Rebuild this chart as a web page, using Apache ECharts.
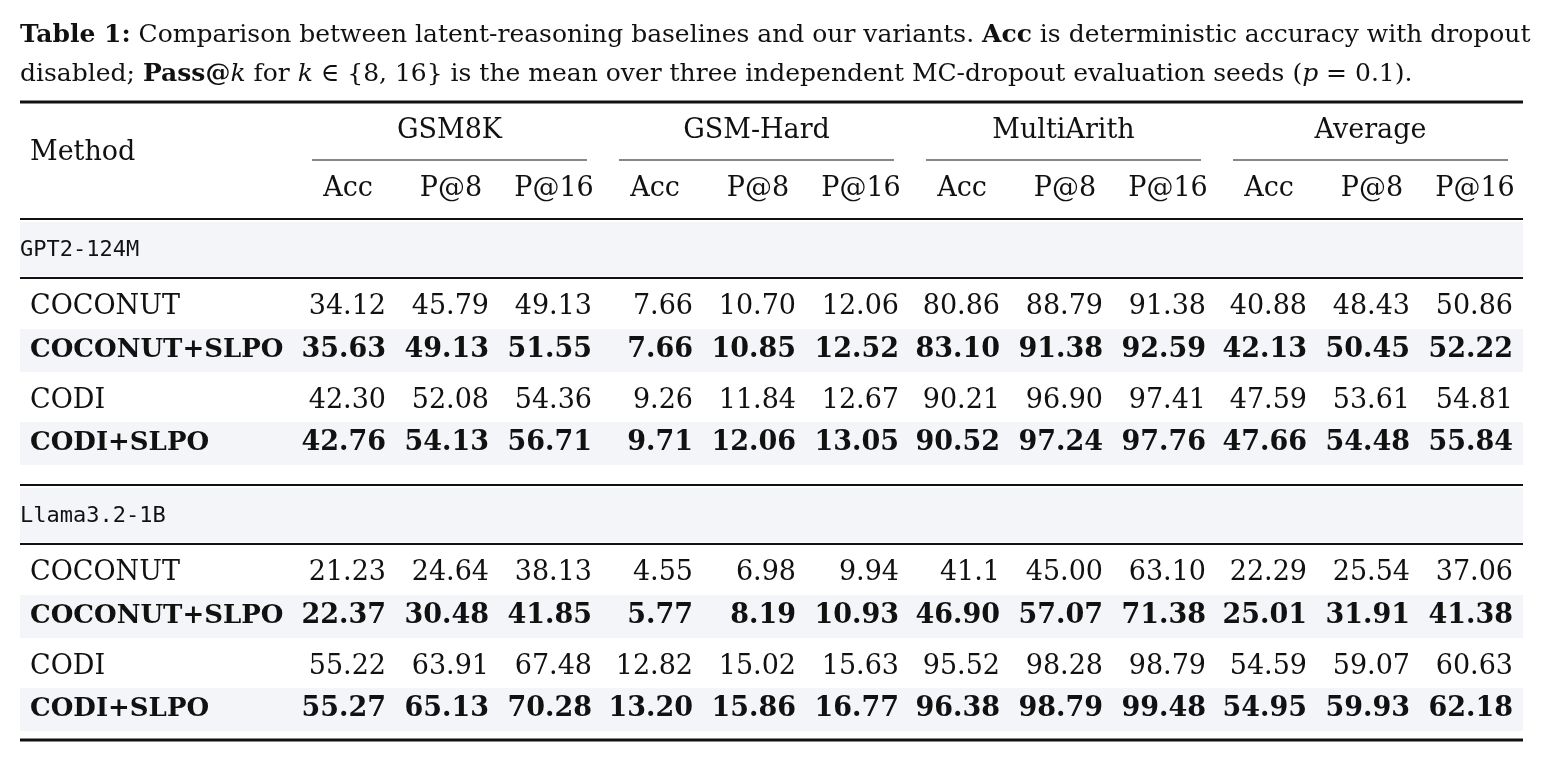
<!DOCTYPE html>
<html>
<head>
<meta charset="utf-8">
<script src="https://cdn.jsdelivr.net/npm/echarts@6/dist/echarts.min.js"></script>
<style>
  html, body { margin: 0; padding: 0; background: #fff; }
  #main { width: 1548px; height: 757px; }
</style>
</head>
<body>
<div id="main"></div>
<script>
// table content
const groups = ['GSM8K', 'GSM-Hard', 'MultiArith', 'Average']
const subCols = ['Acc', 'P@8', 'P@16']
const sections = ['GPT2-124M', 'Llama3.2-1B']
const methods = ['COCONUT', 'COCONUT+SLPO', 'CODI', 'CODI+SLPO']
const ours = [false, true, false, true]

const gpt2Rows = [
  ['34.12', '45.79', '49.13', '7.66', '10.70', '12.06', '80.86', '88.79', '91.38', '40.88', '48.43', '50.86'],
  ['35.63', '49.13', '51.55', '7.66', '10.85', '12.52', '83.10', '91.38', '92.59', '42.13', '50.45', '52.22'],
  ['42.30', '52.08', '54.36', '9.26', '11.84', '12.67', '90.21', '96.90', '97.41', '47.59', '53.61', '54.81'],
  ['42.76', '54.13', '56.71', '9.71', '12.06', '13.05', '90.52', '97.24', '97.76', '47.66', '54.48', '55.84']
]
const llamaRows = [
  ['21.23', '24.64', '38.13', '4.55', '6.98', '9.94', '41.1', '45.00', '63.10', '22.29', '25.54', '37.06'],
  ['22.37', '30.48', '41.85', '5.77', '8.19', '10.93', '46.90', '57.07', '71.38', '25.01', '31.91', '41.38'],
  ['55.22', '63.91', '67.48', '12.82', '15.02', '15.63', '95.52', '98.28', '98.79', '54.59', '59.07', '60.63'],
  ['55.27', '65.13', '70.28', '13.20', '15.86', '16.77', '96.38', '98.79', '99.48', '54.95', '59.93', '62.18']
]

const chart = echarts.init(document.getElementById('main'))

const SERIF = '"DejaVu Serif", serif'
const MONO = '"DejaVu Sans Mono", monospace'
const FS = 27
const left = 20, right = 1523
const shade = '#f3f5f8'
// right edge of the first data column, column step, group step
const col0 = 386, colStep = 103, grpStep = 307

const els = []
function text(t, x, y, opt = {}) {
  els.push({
    type: 'text', silent: true,
    style: Object.assign({
      text: t, x, y, fill: '#111',
      font: (opt.bold ? 'bold ' : '') + (opt.size || FS) + 'px ' + (opt.family || SERIF),
      align: opt.align || 'left', verticalAlign: 'middle'
    }, opt.style || {})
  })
}
function rule(y, w, x1 = left, x2 = right) {
  els.push({ type: 'line', silent: true, shape: { x1, y1: y, x2, y2: y }, style: { stroke: '#111', lineWidth: w } })
}
function band(y1, y2) {
  els.push({ type: 'rect', silent: true, shape: { x: left, y: y1, width: right - left, height: y2 - y1 }, style: { fill: shade } })
}
const colRight = (g, c) => col0 + g * grpStep + c * colStep

// caption with rich text
els.push({
  type: 'text', silent: true,
  style: {
    x: 20, y: 16,
    text: '{b|Table 1:} Comparison between latent-reasoning baselines and our variants. {b|Acc} is deterministic accuracy with dropout\n' +
      'disabled; {b|Pass@}{i|k} for {i|k} ∈ {8, 16} is the mean over three independent MC-dropout evaluation seeds ({i|p} = 0.1).',
    font: '25px ' + SERIF, fill: '#111', lineHeight: 39,
    rich: {
      b: { font: 'bold 25px ' + SERIF, fill: '#111' },
      i: { font: 'italic 25px ' + SERIF, fill: '#111' }
    }
  }
})

// header
rule(102, 3)
text('Method', 30, 153)
groups.forEach((g, gi) => {
  const x1 = colRight(gi, 0) - 74, x2 = colRight(gi, 2) - 5
  text(g, (x1 + x2) / 2, 131, { align: 'center' })
  rule(160, 1.2, x1, x2)
  subCols.forEach((s, ci) => text(s, colRight(gi, ci) - 38, 189, { align: 'center' }))
})
rule(219, 2)

// body sections
const blocks = [
  { label: sections[0], rows: gpt2Rows, top: 222 },
  { label: sections[1], rows: llamaRows, top: 488 }
]
const rowOffsets = [85, 128, 179, 221]
blocks.forEach((b, bi) => {
  band(b.top, b.top + 54)
  text(b.label, 20, b.top + 28, { family: MONO, size: 22 })
  rule(b.top + 56, 2)
  b.rows.forEach((r, ri) => {
    const y = b.top + rowOffsets[ri]
    if (ours[ri]) band(y - 21, y + 22)
    text(methods[ri], 30, y, { bold: ours[ri], size: ours[ri] ? 26 : FS })
    r.forEach((v, k) => {
      text(v, colRight(Math.floor(k / 3), k % 3), y, { bold: ours[ri], align: 'right' })
    })
  })
  if (bi === 0) rule(485, 2)
})
rule(740, 3)

chart.setOption({ animation: false, graphic: { elements: els } })
</script>
</body>
</html>
